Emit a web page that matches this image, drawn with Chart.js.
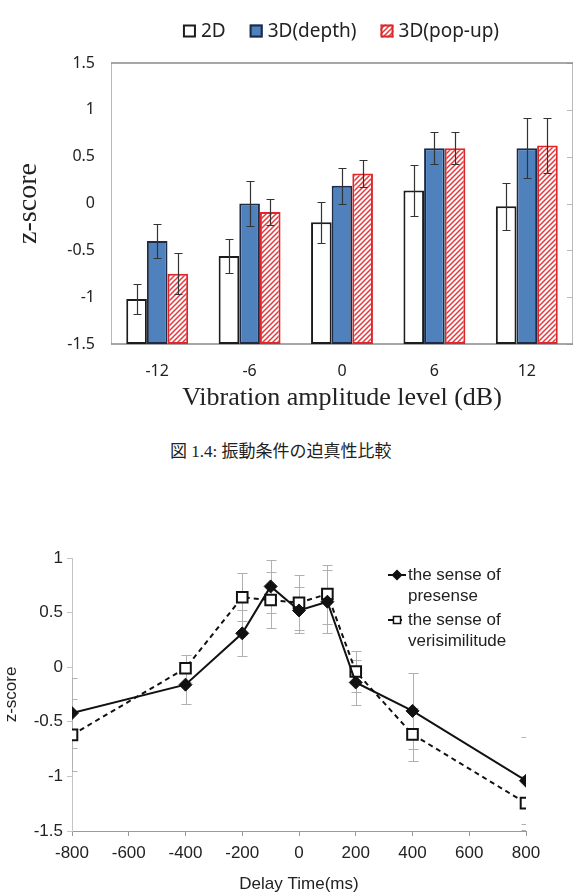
<!DOCTYPE html>
<html>
<head>
<meta charset="utf-8">
<script src="https://cdn.jsdelivr.net/npm/chart.js@4/dist/chart.umd.min.js"></script>
<style>
body { margin:0; background:#fff; width:585px; height:896px; position:relative; overflow:hidden; }
#barWrap { position:absolute; left:0; top:0; width:585px; height:420px; }
#lineWrap { position:absolute; left:0; top:500px; width:585px; height:396px; }
#caption { position:absolute; left:170px; top:441px; font-size:17px; line-height:22px; color:#222;
	font-family:"Liberation Serif","Noto Sans CJK JP"; white-space:nowrap; }
</style>
</head>
<body>
<div id="barWrap"><canvas id="barChart" width="585" height="420"></canvas></div>
<div id="caption">図 1.4: 振動条件の迫真性比較</div>
<div id="lineWrap"><canvas id="lineChart" width="585" height="396"></canvas></div>
<script>
// top chart: z-score per vibration amplitude level
var levels = ['-12', '-6', '0', '6', '12'];
var score2D = [-1.02, -0.56, -0.20, 0.14, -0.03];
var err2D = [0.16, 0.18, 0.22, 0.27, 0.25];
var scoreDepth = [-0.40, 0.00, 0.19, 0.59, 0.59];
var errDepth = [0.18, 0.24, 0.19, 0.17, 0.32];
var scorePopup = [-0.75, -0.09, 0.32, 0.59, 0.62];
var errPopup = [0.22, 0.14, 0.14, 0.17, 0.29];
var barTicks = [-1.5, -1, -0.5, 0, 0.5, 1, 1.5];

// bottom chart: z-score per delay time
var delays = [-800, -400, -200, -100, 0, 100, 200, 400, 800];
var presense = [-0.42, -0.16, 0.31, 0.74, 0.52, 0.60, -0.14, -0.40, -1.04];
var presenseErr = [0.32, 0.175, 0.21, 0.24, 0.21, 0.29, 0.21, 0.35, 0.40];
var verisim = [-0.62, -0.01, 0.64, 0.615, 0.59, 0.67, -0.04, -0.615, -1.245];
var verisimErr = [0.33, 0.125, 0.22, 0.26, 0.25, 0.27, 0.19, 0.245, 0.25];

function plainNumber(v)
{
	return String(v);
}

function makeHatch()
{
	var n = 5;
	var c = document.createElement('canvas');
	c.width = n; c.height = n;
	var g = c.getContext('2d');
	g.fillStyle = '#fff';
	g.fillRect(0, 0, n, n);
	g.strokeStyle = '#e2383c';
	g.lineWidth = 1.5;
	g.beginPath();
	g.moveTo(-1, n + 1); g.lineTo(n + 1, -1);
	g.moveTo(-n / 2 - 1, n / 2 + 1); g.lineTo(n / 2 + 1, -n / 2 - 1);
	g.moveTo(n / 2 - 1, n * 1.5 + 1); g.lineTo(n * 1.5 + 1, n / 2 - 1);
	g.stroke();
	return g.createPattern(c, 'repeat');
}

function drawErrors(chart, opts)
{
	var ctx = chart.ctx;
	var yScale = chart.scales.y;
	var a = chart.chartArea;
	ctx.save();
	ctx.beginPath();
	ctx.rect(a.left, a.top - 2, a.right - a.left, a.bottom - a.top + 2);
	ctx.clip();
	ctx.strokeStyle = opts.color;
	ctx.lineWidth = opts.width;
	chart.data.datasets.forEach(function(ds, di) {
		var meta = chart.getDatasetMeta(di);
		meta.data.forEach(function(el, i) {
			var m = ds.means[i], e = ds.errors[i];
			var x = Math.round(el.x) + 0.5;
			var yTop = Math.round(yScale.getPixelForValue(m + e)) + 0.5;
			var yBot = Math.round(yScale.getPixelForValue(m - e)) + 0.5;
			ctx.beginPath();
			ctx.moveTo(x, yTop); ctx.lineTo(x, yBot);
			ctx.moveTo(x - opts.cap, yTop); ctx.lineTo(x + opts.cap, yTop);
			ctx.moveTo(x - opts.cap, yBot); ctx.lineTo(x + opts.cap, yBot);
			ctx.stroke();
		});
	});
	ctx.restore();
}

var errorBarPlugin = {
	id: 'errorBars',
	beforeDatasetsDraw: function(chart, args, opts) { if (opts.under) drawErrors(chart, opts); },
	afterDatasetsDraw: function(chart, args, opts) { if (!opts.under) drawErrors(chart, opts); }
};

// frame round the bar plot, with small inner ticks on the right side
var framePlugin = {
	id: 'frame',
	beforeDatasetsDraw: function(chart)
	{
		var a = chart.chartArea, ctx = chart.ctx, y = chart.scales.y;
		ctx.save();
		ctx.lineWidth = 1;
		ctx.strokeStyle = '#b8b8b8';
		ctx.beginPath();
		ctx.moveTo(a.left + 0.5, a.top); ctx.lineTo(a.left + 0.5, a.bottom);
		ctx.moveTo(a.right - 0.5, a.top); ctx.lineTo(a.right - 0.5, a.bottom);
		y.ticks.forEach(function(t) {
			var py = Math.round(y.getPixelForValue(t.value)) + 0.5;
			ctx.moveTo(a.right - 6, py); ctx.lineTo(a.right, py);
		});
		ctx.stroke();
		ctx.lineWidth = 1.5;
		ctx.strokeStyle = '#8a8a8a';
		ctx.beginPath();
		ctx.moveTo(a.left, a.top); ctx.lineTo(a.right, a.top);
		ctx.moveTo(a.left, a.bottom); ctx.lineTo(a.right, a.bottom);
		ctx.stroke();
		ctx.restore();
	}
};

var barLegendPlugin = {
	id: 'barLegend',
	afterDraw: function(chart)
	{
		var ctx = chart.ctx, a = chart.chartArea;
		ctx.save();
		ctx.font = '19px "Noto Sans"';
		var box = 13, gap = 5, spacing = 24;
		var items = chart.data.datasets.map(function(ds) {
			return { ds: ds, w: box + gap + ctx.measureText(ds.label).width };
		});
		var total = spacing * (items.length - 1);
		items.forEach(function(it) { total += it.w; });
		var x = (a.left + a.right) / 2 - total / 2 - 1;
		var cy = 31;
		ctx.textBaseline = 'middle';
		items.forEach(function(it) {
			ctx.fillStyle = it.ds.backgroundColor;
			ctx.fillRect(x, cy - box / 2, box, box);
			ctx.lineWidth = 2;
			ctx.strokeStyle = it.ds.borderColor;
			ctx.strokeRect(x + 1, cy - box / 2 + 1, box - 2, box - 2);
			ctx.fillStyle = '#222';
			ctx.fillText(it.ds.label, x + box + gap, cy + 1);
			x += it.w + spacing;
		});
		ctx.restore();
	}
};

var hatch = makeHatch();

new Chart(document.getElementById('barChart'), {
	type: 'bar',
	data: {
		labels: levels,
		datasets: [
			{ label: '2D', data: score2D.map(function(v) { return [-1.5, v]; }), means: score2D, errors: err2D,
				backgroundColor: '#ffffff', borderColor: '#1c1c1c', borderWidth: 2 },
			{ label: '3D(depth)', data: scoreDepth.map(function(v) { return [-1.5, v]; }), means: scoreDepth, errors: errDepth,
				backgroundColor: '#4f81bd', borderColor: '#1d2b46', borderWidth: 2 },
			{ label: '3D(pop-up)', data: scorePopup.map(function(v) { return [-1.5, v]; }), means: scorePopup, errors: errPopup,
				backgroundColor: hatch, borderColor: '#e0262b', borderWidth: 2 }
		]
	},
	options: {
		responsive: false,
		animation: false,
		categoryPercentage: 0.67,
		barPercentage: 1.0,
		borderSkipped: false,
		layout: { padding: { top: 63, right: 12, left: 0, bottom: 0 } },
		plugins: {
			legend: { display: false },
			tooltip: { enabled: false },
			errorBars: { color: '#333', width: 1.2, cap: 4, under: false }
		},
		scales: {
			x: {
				afterFit: function(s) { s.height = 76; },
				grid: { display: false, drawTicks: false },
				border: { display: false },
				ticks: { color: '#222', font: { family: 'Noto Sans', size: 16 }, padding: 18 },
				title: { display: true, text: 'Vibration amplitude level (dB)', color: '#222',
					font: { family: 'Liberation Serif', size: 26 }, padding: { top: 0, bottom: 6 } }
			},
			y: {
				min: -1.5, max: 1.5,
				afterFit: function(s) { s.width = 111; },
				afterBuildTicks: function(s) { s.ticks = barTicks.map(function(v) { return { value: v }; }); },
				grid: { display: false, drawTicks: false },
				border: { display: false },
				ticks: { color: '#222', font: { family: 'Noto Sans', size: 16 }, padding: 16, callback: plainNumber },
				title: { display: true, text: 'z-score', color: '#222',
					font: { family: 'Liberation Serif', size: 28 }, padding: { top: 12, bottom: 0 } }
			}
		}
	},
	plugins: [framePlugin, errorBarPlugin, barLegendPlugin]
});

// legend inside the line plot
var lineLegendPlugin = {
	id: 'lineLegend',
	afterDraw: function(chart)
	{
		var ctx = chart.ctx, a = chart.chartArea;
		var x0 = a.left + 316, y0 = a.top + 17;
		ctx.save();
		ctx.font = '17px "Liberation Sans"';
		ctx.textBaseline = 'middle';
		chart.data.datasets.forEach(function(ds, i) {
			var cy = y0 + i * 45;
			ctx.strokeStyle = '#111';
			ctx.lineWidth = 2;
			ctx.setLineDash(ds.borderDash || []);
			ctx.beginPath();
			ctx.moveTo(x0, cy); ctx.lineTo(x0 + 18, cy);
			ctx.stroke();
			ctx.setLineDash([]);
			var opts = { pointStyle: ds.pointStyle, radius: ds.pointStyle == 'rect' ? 5 : 4.5, borderWidth: 1.5 };
			ctx.fillStyle = ds.pointBackgroundColor;
			ctx.strokeStyle = ds.pointBorderColor;
			ctx.lineWidth = 1.5;
			Chart.helpers.drawPoint(ctx, opts, x0 + 9, cy);
			ctx.fillStyle = '#222';
			ctx.fillText(ds.label[0], x0 + 20, cy);
			ctx.fillText(ds.label[1], x0 + 20, cy + 21);
		});
		ctx.restore();
	}
};

new Chart(document.getElementById('lineChart'), {
	type: 'line',
	data: {
		datasets: [
			{ label: ['the sense of', 'presense'],
				data: delays.map(function(d, i) { return { x: d, y: presense[i] }; }),
				means: presense, errors: presenseErr,
				borderColor: '#111', borderWidth: 2, fill: false,
				pointStyle: 'rectRot', pointRadius: 6.5, pointBackgroundColor: '#111', pointBorderColor: '#111', pointBorderWidth: 1 },
			{ label: ['the sense of', 'verisimilitude'],
				data: delays.map(function(d, i) { return { x: d, y: verisim[i] }; }),
				means: verisim, errors: verisimErr,
				borderColor: '#111', borderWidth: 2, borderDash: [5, 4], fill: false,
				pointStyle: 'rect', pointRadius: 7.5, pointBackgroundColor: '#fff', pointBorderColor: '#111', pointBorderWidth: 2 }
		]
	},
	options: {
		responsive: false,
		animation: false,
		layout: { padding: { top: 58, right: 59, left: 0, bottom: 0 } },
		plugins: {
			legend: { display: false },
			tooltip: { enabled: false },
			errorBars: { color: '#b0b0b0', width: 1, cap: 5, under: true }
		},
		scales: {
			x: {
				type: 'linear', min: -800, max: 800,
				afterFit: function(s) { s.height = 65; },
				ticks: { stepSize: 200, color: '#222', font: { family: 'Liberation Sans', size: 17 }, padding: 7, callback: plainNumber },
				grid: { display: true, drawOnChartArea: false, drawTicks: true, tickLength: 5, color: '#9a9a9a' },
				border: { color: '#9a9a9a' },
				title: { display: true, text: 'Delay Time(ms)', color: '#222',
					font: { family: 'Liberation Sans', size: 17 }, padding: { top: 0, bottom: 1 } }
			},
			y: {
				min: -1.5, max: 1,
				afterFit: function(s) { s.width = 72; },
				ticks: { stepSize: 0.5, color: '#222', font: { family: 'Liberation Sans', size: 17 }, padding: 4, callback: plainNumber },
				grid: { display: true, drawOnChartArea: false, drawTicks: true, tickLength: 5, color: '#c4c4c4' },
				border: { color: '#c4c4c4' },
				title: { display: true, text: 'z-score', color: '#222',
					font: { family: 'Liberation Sans', size: 17 }, padding: { top: 1, bottom: 0 } }
			}
		}
	},
	plugins: [errorBarPlugin, lineLegendPlugin]
});
</script>
</body>
</html>
